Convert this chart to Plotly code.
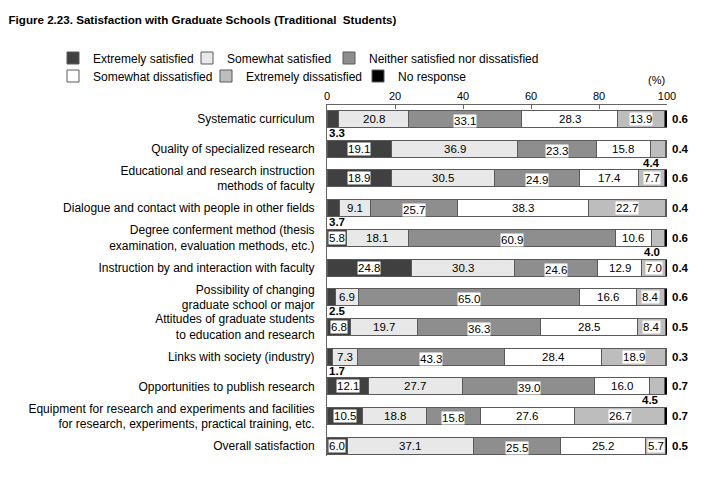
import plotly.graph_objects as go

categories = [
    "Systematic curriculum",
    "Quality of specialized research",
    "Educational and research instruction<br>methods of faculty",
    "Dialogue and contact with people in other fields",
    "Degree conferment method (thesis<br>examination, evaluation methods, etc.)",
    "Instruction by and interaction with faculty",
    "Possibility of changing<br>graduate school or major",
    "Attitudes of graduate students<br>to education and research",
    "Links with society (industry)",
    "Opportunities to publish research",
    "Equipment for research and experiments and facilities<br>for research, experiments, practical training, etc.",
    "Overall satisfaction",
]

series_names = [
    "Extremely satisfied",
    "Somewhat satisfied",
    "Neither satisfied nor dissatisfied",
    "Somewhat dissatisfied",
    "Extremely dissatisfied",
    "No response",
]

extremely_satisfied = [3.3, 19.1, 18.9, 3.7, 5.8, 24.8, 2.5, 6.8, 1.7, 12.1, 10.5, 6.0]
somewhat_satisfied = [20.8, 36.9, 30.5, 9.1, 18.1, 30.3, 6.9, 19.7, 7.3, 27.7, 18.8, 37.1]
neither = [33.1, 23.3, 24.9, 25.7, 60.9, 24.6, 65.0, 36.3, 43.3, 39.0, 15.8, 25.5]
somewhat_dissatisfied = [28.3, 15.8, 17.4, 38.3, 10.6, 12.9, 16.6, 28.5, 28.4, 16.0, 27.6, 25.2]
extremely_dissatisfied = [13.9, 4.4, 7.7, 22.7, 4.0, 7.0, 8.4, 8.4, 18.9, 4.5, 26.7, 5.7]
no_response = [0.6, 0.4, 0.6, 0.4, 0.6, 0.4, 0.6, 0.5, 0.3, 0.7, 0.7, 0.5]

x_ticks = [0, 20, 40, 60, 80, 100]

series_values = [extremely_satisfied, somewhat_satisfied, neither,
                 somewhat_dissatisfied, extremely_dissatisfied, no_response]
colors = ["#404040", "#e8e8e8", "#8e8e8e", "#ffffff", "#bdbdbd", "#000000"]
boxed = [True, False, True, False, True, False]

FONT = "Liberation Sans, Arial, Helvetica, sans-serif"

# page body margin shifts the figure by ~8px; layout in figure pixels
OFF = 8
PLOT_L, PLOT_R, PLOT_T, PLOT_B = 327 - OFF, 667 - OFF, 105 - OFF, 456 - OFF
W, H = 709, 482

# legend text starts (window px) and row centres
leg_text_x = [92, 226, 368, 92, 245, 397]
leg_row_y = [58, 58, 58, 76, 76, 76]

fig = go.Figure()

for k, (name, vals, col) in enumerate(zip(series_names, series_values, colors)):
    lname = "legend" if k == 0 else f"legend{k+1}"
    fig.add_trace(go.Bar(
        y=categories, x=vals, name=name, orientation="h",
        marker=dict(color=col, line=dict(color="#5a5a5a", width=1)),
        width=0.57, legend=lname, showlegend=True, hoverinfo="x+name",
    ))

legends = {}
for k in range(6):
    key = "legend" if k == 0 else f"legend{k+1}"
    fx = leg_text_x[k] - OFF - 39
    fy = leg_row_y[k] - OFF
    legends[key] = dict(
        x=(fx - PLOT_L) / (PLOT_R - PLOT_L),
        y=(PLOT_B - fy) / (PLOT_B - PLOT_T),
        xanchor="left", yanchor="middle", orientation="h",
        bgcolor="rgba(0,0,0,0)", borderwidth=0,
        font=dict(family=FONT, size=12, color="#000"),
        itemclick=False, itemdoubleclick=False,
    )

annotations = []
for j, cat in enumerate(categories):
    start = 0.0
    for k, vals in enumerate(series_values):
        v = vals[j]
        mid = start + v / 2
        if k == 5:
            annotations.append(dict(
                x=100, y=cat, xref="x", yref="y", text=f"{v:.1f}",
                xanchor="left", xshift=3, showarrow=False,
                font=dict(family=FONT, size=11.5, color="#000", weight="bold")))
        elif v < 5 and k == 0:
            annotations.append(dict(
                x=0, y=cat, xref="x", yref="y", text=f"{v:.1f}",
                xanchor="left", xshift=0, yshift=-14, showarrow=False,
                font=dict(family=FONT, size=11.5, color="#000", weight="bold")))
        elif v < 5 and k == 4:
            annotations.append(dict(
                x=mid, y=cat, xref="x", yref="y", text=f"{v:.1f}",
                xanchor="center", xshift=-6, yshift=-14, showarrow=False,
                font=dict(family=FONT, size=11.5, color="#000", weight="bold")))
        else:
            a = dict(
                x=mid, y=cat, xref="x", yref="y", text=f"{v:.1f}",
                showarrow=False, yshift=(-2 if k == 2 else 0),
                font=dict(family=FONT, size=11.5, color="#000"))
            if boxed[k]:
                a.update(bgcolor="#ffffff", borderpad=0)
            annotations.append(a)
        start += v

annotations.append(dict(
    x=1.0, y=(PLOT_B - (80 - OFF)) / (PLOT_B - PLOT_T), xref="paper", yref="paper",
    text="(%)", xanchor="right", yanchor="middle", showarrow=False,
    font=dict(family=FONT, size=11, color="#000")))

fig.update_layout(
    width=W, height=H,
    barmode="stack",
    plot_bgcolor="#ffffff", paper_bgcolor="#ffffff",
    margin=dict(l=PLOT_L, r=W - PLOT_R, t=PLOT_T, b=H - PLOT_B, autoexpand=False),
    title=dict(
        text="Figure 2.23. Satisfaction with Graduate Schools (Traditional  Students)",
        x=0.5 / W, xref="container", xanchor="left",
        y=1 - (20 - OFF) / H, yref="container", yanchor="middle",
        font=dict(family=FONT, size=11.6, color="#000", weight="bold")),
    xaxis=dict(
        side="top", range=[0, 100], tickvals=x_ticks, ticktext=[str(t) for t in x_ticks],
        ticks="inside", ticklen=4, tickcolor="#666", showline=True, linecolor="#666",
        linewidth=1, showgrid=False, zeroline=False, fixedrange=True,
        tickfont=dict(family=FONT, size=11, color="#000")),
    yaxis=dict(
        type="category", categoryorder="array", categoryarray=categories,
        range=[11.34, -0.47], showline=True, linecolor="#666", linewidth=1,
        ticks="", showgrid=False, zeroline=False, ticklabelstandoff=9,
        tickfont=dict(family=FONT, size=12, color="#000"), fixedrange=True),
    annotations=annotations,
    showlegend=True,
    **legends,
)

fig.write_html("out.html")
